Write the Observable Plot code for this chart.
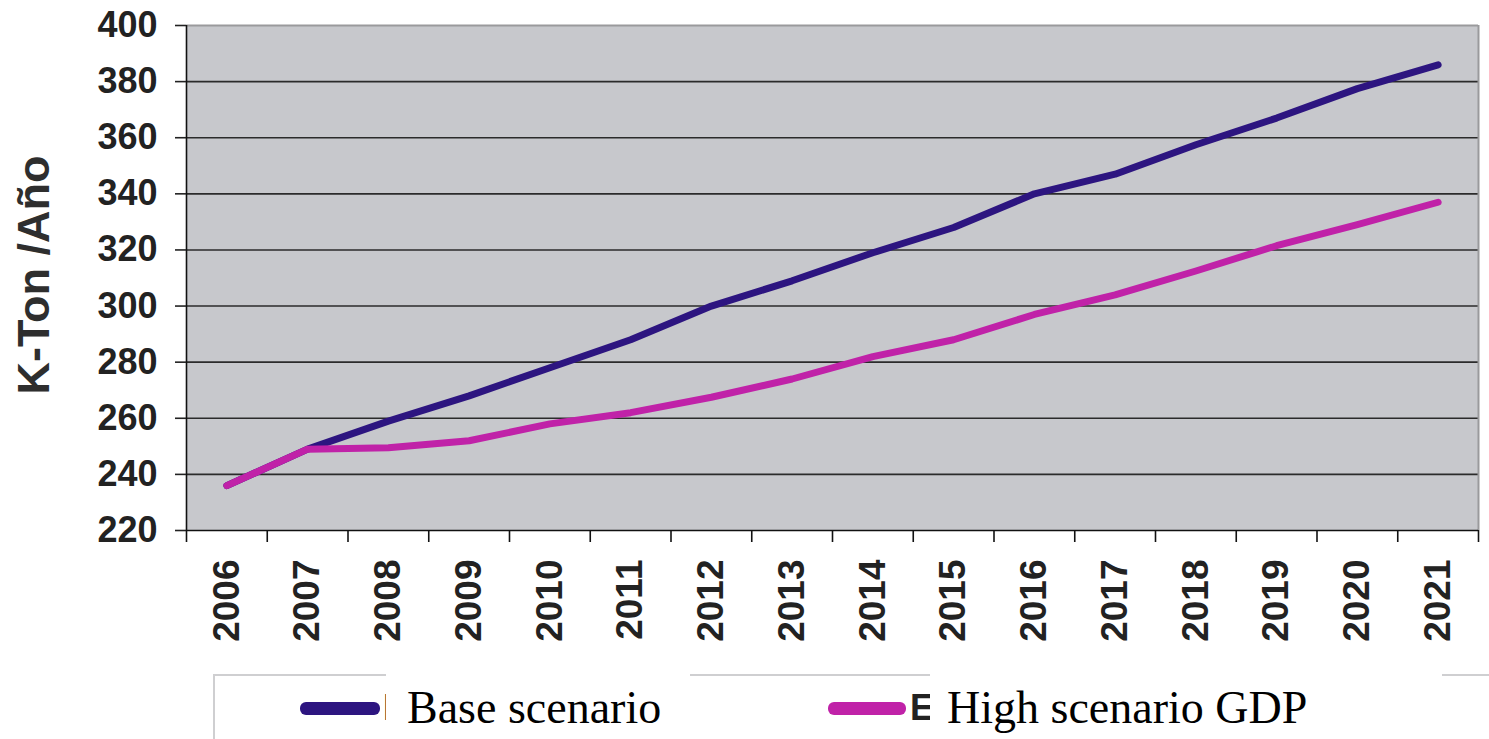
<!DOCTYPE html>
<html>
<head>
<meta charset="utf-8">
<script src="https://cdn.jsdelivr.net/npm/d3@7"></script>
<script src="https://cdn.jsdelivr.net/npm/@observablehq/plot@0.6"></script>
<style>
  html, body { margin: 0; padding: 0; background: #fff; }
  #wrap { position: relative; width: 1489px; height: 739px; overflow: hidden; }
  #chart svg { display: block; }
  #ylabel { position: absolute; left: 33px; top: 275px; transform: translate(-50%, -50%) rotate(-90deg); white-space: nowrap; font-family: "Liberation Sans", Arial, sans-serif; font-weight: bold; font-size: 45px; color: #2e2e2e; line-height: 1; }
  #legendBox { position: absolute; left: 213px; top: 674px; width: 1300px; height: 100px; border: 2px solid #cfcfd1; box-sizing: border-box; }
  .sw { position: absolute; height: 13px; border-radius: 6px; }
  .cut { position: absolute; font-family: "Liberation Sans", Arial, sans-serif; font-weight: bold; font-size: 36px; color: #222; line-height: 1; }
  .patch { position: absolute; background: #fff; font-family: "Liberation Serif", "Times New Roman", serif; font-size: 46px; color: #000; line-height: 1; }
</style>
</head>
<body>
<div id="wrap">
  <div id="chart"></div>
  <div id="ylabel"></div>
  <div id="legend"></div>
</div>
<script>
const years = [2006, 2007, 2008, 2009, 2010, 2011, 2012, 2013, 2014, 2015, 2016, 2017, 2018, 2019, 2020, 2021];
const baseValues = [236, 249, 259, 268, 278, 288, 300, 309, 319, 328, 340, 347, 357.5, 367, 377.5, 386];
const highValues = [236, 249, 249.5, 252, 258, 262, 267.5, 274, 282, 288, 297, 304, 312.5, 321.5, 329, 337];
const seriesNames = ["Base scenario", "High scenario GDP"];
const seriesColors = ["#2d1580", "#c022a8"];
const legendCutLetters = ["B", "E"];
const yTicks = [220, 240, 260, 280, 300, 320, 340, 360, 380, 400];
const yLabel = "K-Ton /Año";

const data = years.flatMap((yr, i) => [
  {year: yr, value: baseValues[i], series: seriesNames[0]},
  {year: yr, value: highValues[i], series: seriesNames[1]}
]);
const boundaries = years.map(y => y - 0.5).concat([years[years.length - 1] + 0.5]);
const xDomain = [boundaries[0], boundaries[boundaries.length - 1]];

const chart = Plot.plot({
  width: 1489,
  height: 670,
  marginLeft: 186,
  marginRight: 11,
  marginTop: 25,
  marginBottom: 140,
  style: {fontFamily: "'Liberation Sans', Arial, sans-serif", background: "#fff", color: "#222"},
  x: {type: "linear", domain: xDomain},
  y: {domain: [yTicks[0], yTicks[yTicks.length - 1]]},
  color: {domain: seriesNames, range: seriesColors},
  marks: [
    Plot.frame({fill: "#c7c8cc", stroke: null}),
    Plot.ruleY(yTicks.slice(1, -1), {stroke: "#2b2b2b", strokeWidth: 1.6}),
    Plot.ruleY([yTicks[yTicks.length - 1]], {stroke: "#9a9a9c", strokeWidth: 2}),
    Plot.ruleX([xDomain[1]], {stroke: "#9a9a9c", strokeWidth: 2}),
    Plot.line(data, {x: "year", y: "value", z: "series", stroke: "series", strokeWidth: 7, strokeLinecap: "round", strokeLinejoin: "round"}),
    Plot.ruleY([yTicks[0]], {stroke: "#111", strokeWidth: 1.6}),
    Plot.ruleX([xDomain[0]], {stroke: "#111", strokeWidth: 1.6}),
    Plot.axisY({ticks: yTicks, tickSize: 11, tickPadding: 18, fontSize: 36, fontWeight: "bold", color: "#222", strokeWidth: 1.6, label: null}),
    Plot.axisX({ticks: boundaries, tickSize: 12, tickFormat: () => "", color: "#111", strokeWidth: 1.6, label: null}),
    Plot.axisX({ticks: years, tickSize: 0, tickPadding: 29, tickRotate: -90, tickFormat: d => String(d), fontSize: 37, fontWeight: "bold", color: "#222", label: null})
  ]
});
document.getElementById("chart").appendChild(chart);
document.getElementById("ylabel").textContent = yLabel;

// Legend (HTML, below the SVG)
const legend = document.getElementById("legend");
const box = document.createElement("div");
box.id = "legendBox";
legend.appendChild(box);
const items = [
  {sw: 300, swW: 80, cutX: 383, patchX: 386, patchW: 304, textX: 407},
  {sw: 828, swW: 78, cutX: 910, patchX: 930, patchW: 512, textX: 947}
];
seriesNames.forEach((name, i) => {
  const it = items[i];
  const sw = document.createElement("div");
  sw.className = "sw";
  sw.style.left = it.sw + "px";
  sw.style.top = "702px";
  sw.style.width = it.swW + "px";
  sw.style.background = seriesColors[i];
  legend.appendChild(sw);
  const cut = document.createElement("div");
  cut.className = "cut";
  cut.style.left = it.cutX + "px";
  cut.style.top = "690px";
  cut.textContent = legendCutLetters[i];
  legend.appendChild(cut);
  const patch = document.createElement("div");
  patch.className = "patch";
  patch.style.left = it.patchX + "px";
  patch.style.top = "660px";
  patch.style.width = it.patchW + "px";
  patch.style.height = "90px";
  const t = document.createElement("div");
  t.textContent = name;
  t.style.position = "absolute";
  t.style.left = (it.textX - it.patchX) + "px";
  t.style.top = "25px";
  patch.appendChild(t);
  legend.appendChild(patch);
});
</script>
</body>
</html>
